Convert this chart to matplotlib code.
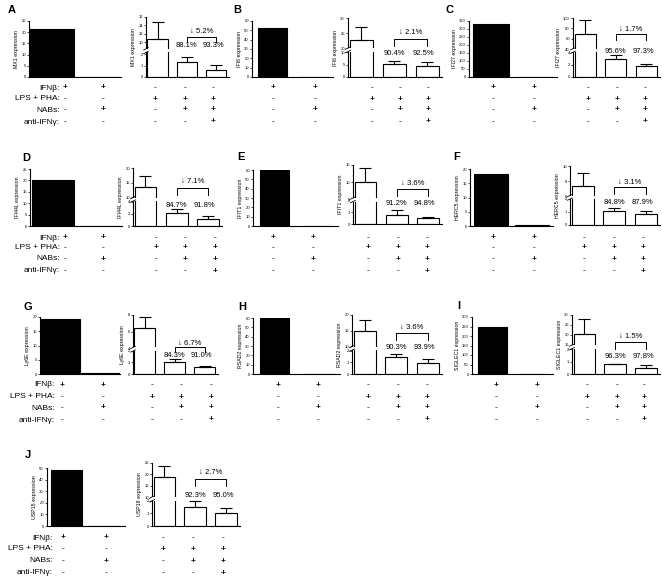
import matplotlib
matplotlib.use("Agg")
import matplotlib.pyplot as plt
import matplotlib.transforms as mtransforms
from matplotlib.patches import Rectangle
import numpy as np

plt.rcParams['font.family'] = ['Liberation Sans', 'DejaVu Sans']

# ---- data ----
letters = ["A", "B", "C", "D", "E", "F", "G", "H", "I", "J"]
genes = ["MX1", "IFI6", "IFI27", "IFI44L", "IFIT1", "HERC5", "Ly6E", "RSAD2", "SIGLEC1", "USP18"]

# left plots: IFNb alone / IFNb + NABs
ifnb_alone = [21.5, 52, 330, 20.3, 60, 18.4, 19.4, 60, 248, 48]
ifnb_nabs = [0.2, 0.3, 0.5, 0.2, 0.2, 0.3, 0.5, 0.2, 0.5, 0.4]
left_ymax = [25, 60, 350, 25, 60, 20, 20, 60, 300, 50]
left_step = [5, 10, 50, 5, 10, 5, 5, 10, 50, 10]

# right plots: LPS+PHA / +NABs / +NABs+anti-IFNg  (mean, upper SEM)
stim_mean = [
    [10.8, 1.31, 0.65],
    [22.8, 5.3, 4.3],
    [69.5, 2.9, 1.85],
    [13.7, 2.1, 1.17],
    [10.0, 0.8, 0.5],
    [7.4, 1.05, 0.83],
    [6.4, 1.0, 0.57],
    [14.9, 1.49, 0.97],
    [20.3, 0.81, 0.51],
    [18.8, 1.54, 1.0],
]
stim_err = [
    [3.9, 0.45, 0.39],
    [4.1, 1.3, 1.8],
    [27.5, 0.6, 0.25],
    [3.5, 0.7, 0.5],
    [4.0, 0.44, 0.1],
    [1.7, 0.2, 0.25],
    [1.3, 0.23, 0.09],
    [3.4, 0.22, 0.32],
    [7.7, 0.01, 0.22],
    [5.0, 0.46, 0.4],
]
pct_labels = [
    ["88.1%", "93.3%"], ["90.4%", "92.5%"], ["95.6%", "97.3%"],
    ["84.7%", "91.8%"], ["91.2%", "94.8%"], ["84.8%", "87.9%"],
    ["84.3%", "91.0%"], ["90.3%", "93.9%"], ["96.3%", "97.8%"],
    ["92.3%", "95.0%"],
]
delta_labels = ["5.2%", "2.1%", "1.7%", "7.1%", "3.6%", "3.1%", "6.7%", "3.6%", "1.5%", "2.7%"]

# broken y axis of the right plots
break_lo = [2.3, 11, 4.3, 4.4, 2.1, 2.07, 2.1, 2.2, 2.2, 2.15]
break_hi = [8, 19.5, 38.4, 9.4, 4.8, 5.9, 3.9, 9.4, 14, 9.3]
right_top = [16, 30, 100, 20, 15, 10, 8, 20, 30, 25]
lower_ticks = [[0, 1, 2], [0, 5, 10], [0, 2, 4], [0, 2, 4], [0, 1, 2],
               [0, 1, 2], [0, 1, 2], [0, 1, 2], [0, 1, 2], [0, 1, 2]]
upper_ticks = [[10, 12, 14, 16], [20, 25, 30], [40, 60, 80, 100], [10, 15, 20],
               [5, 10, 15], [6, 8, 10], [4, 6, 8], [10, 15, 20],
               [15, 20, 25, 30], [10, 15, 20, 25]]

row_names = ["IFN\u03b2:", "LPS + PHA:", "NABs:", "anti-IFN\u03b3:"]
signs = [
    ["+", "+", "-", "-", "-"],
    ["-", "-", "+", "+", "+"],
    ["-", "+", "-", "+", "+"],
    ["-", "-", "-", "-", "+"],
]

# ---- layout (pixels) ----
W, H = 662, 581
left_box = [(29, 21, 121, 77), (252, 21, 333, 77), (469, 21, 557, 77),
            (30, 169, 122, 226), (253, 170, 338, 226), (470, 169, 553, 226),
            (40, 317, 120, 374), (253, 318, 340, 374), (472, 317, 553, 374),
            (47, 468, 125, 526)]
right_box = [(146, 17, 229, 77), (348, 18, 442, 77), (573, 18, 660, 77),
             (133, 168, 222, 226), (353, 165, 442, 224), (570, 166, 660, 225),
             (133, 315, 218, 374), (352, 315, 442, 374), (572, 315, 660, 374),
             (152, 463, 240, 526)]
left_bar_w = [0.96, 0.72, 0.8, 0.92, 0.68, 0.82, 1.0, 0.67, 0.72, 0.77]
break_frac = [0.44, 0.46, 0.45, 0.46, 0.41, 0.47, 0.42, 0.435, 0.46, 0.43]
letter_pos = [(8, 10), (233, 10), (445, 10), (22, 158), (237, 157), (453, 157),
              (23, 307), (238, 307), (457, 306), (25, 455)]
# bracket top, bracket leg, arrow text, percentage text (axes fraction)
bracket_y = [(0.66, 0.59, 0.76, 0.52), (0.64, 0.53, 0.76, 0.39), (0.73, 0.63, 0.81, 0.43),
             (0.65, 0.54, 0.76, 0.35), (0.59, 0.47, 0.68, 0.34), (0.64, 0.52, 0.72, 0.38),
             (0.45, 0.38, 0.52, 0.32), (0.69, 0.58, 0.79, 0.45), (0.54, 0.42, 0.63, 0.30),
             (0.74, 0.63, 0.85, 0.49)]
sign_x = [(65, 103, 155, 185, 213), (273, 315, 372, 400, 428), (493, 534, 588, 617, 645),
          (65, 103, 156, 185, 215), (273, 313, 368, 398, 427), (493, 534, 584, 614, 643),
          (62, 103, 152, 181, 211), (278, 318, 368, 398, 427), (496, 537, 587, 617, 644),
          (63, 106, 163, 193, 223)]
table_rows_y = [[88, 99, 110, 122]] * 3 + [[238, 248, 259, 271]] * 3 + \
               [[385, 397, 408, 420]] * 3 + [[538, 549, 561, 573]]
row_label_x = {0: 60, 3: 60, 6: 55, 9: 53}


def px_axes(fig, box):
    x0, y0, x1, y1 = box
    return fig.add_axes([x0 / W, 1 - y1 / H, (x1 - x0) / W, (y1 - y0) / H])


def break_scale(lo, hi, top, frac, gap=0.002):
    def fwd(y):
        y = np.asarray(y, dtype=float)
        a = y / lo * frac
        b = frac + (y - lo) / (hi - lo) * gap
        c = frac + gap + (y - hi) / (top - hi) * (1 - frac - gap)
        return np.where(y <= lo, a, np.where(y < hi, b, c))

    def inv(t):
        t = np.asarray(t, dtype=float)
        a = t / frac * lo
        b = lo + (t - frac) / gap * (hi - lo)
        c = hi + (t - frac - gap) / (1 - frac - gap) * (top - hi)
        return np.where(t <= frac, a, np.where(t < frac + gap, b, c))
    return fwd, inv


def style(ax, label):
    for s in ['top', 'right']:
        ax.spines[s].set_visible(False)
    for s in ['left', 'bottom']:
        ax.spines[s].set_linewidth(0.8)
    ax.set_xticks([])
    ax.tick_params(axis='y', length=1.5, width=0.5, labelsize=3, pad=0.8)
    ax.set_ylabel(label, fontsize=3.8, labelpad=1.5)


fig = plt.figure(figsize=(W / 100, H / 100), dpi=100)

for i in range(10):
    gene = genes[i]

    # left plot: IFNb stimulation
    axl = px_axes(fig, left_box[i])
    axl.bar([0, 1], [ifnb_alone[i], ifnb_nabs[i]], width=left_bar_w[i],
            color=['black', 'white'], edgecolor='black', linewidth=0.8)
    axl.set_xlim(-0.5, 1.5)
    axl.set_ylim(0, left_ymax[i])
    axl.set_yticks(np.arange(0, left_ymax[i] + 1, left_step[i]))
    style(axl, f"{gene} expression")

    # right plot: LPS + PHA stimulation with broken axis
    axr = px_axes(fig, right_box[i])
    fwd, inv = break_scale(break_lo[i], break_hi[i], right_top[i], break_frac[i])
    axr.set_yscale('function', functions=(fwd, inv))
    axr.bar([0, 1, 2], stim_mean[i], width=0.7, color='white', edgecolor='black',
            linewidth=0.8, yerr=[[0, 0, 0], stim_err[i]],
            error_kw=dict(ecolor='black', elinewidth=0.8, capsize=4, capthick=0.8))
    axr.set_xlim(-0.4, 2.45)
    axr.set_ylim(0, right_top[i])
    ticks = lower_ticks[i] + upper_ticks[i]
    axr.set_yticks(ticks)
    axr.set_yticklabels([str(t) for t in ticks])
    axr.minorticks_off()
    style(axr, f"{gene} expression")

    # break marks
    f = break_frac[i]
    trans = mtransforms.blended_transform_factory(axr.transData, axr.transAxes)
    axr.add_patch(Rectangle((-0.47, f - 0.03), 0.86, 0.06, transform=trans,
                            facecolor='white', edgecolor='none', clip_on=False, zorder=5))
    for dy in (-0.03, 0.03):
        axr.plot([-0.48, -0.32], [f + dy - 0.02, f + dy + 0.02], transform=trans,
                 color='black', lw=0.6, clip_on=False, zorder=6)

    # bracket and percentages
    yt, yl, ytx, yp = bracket_y[i]
    axr.plot([1, 1, 2, 2], [yl, yt, yt, yl], transform=trans, color='black', lw=0.7,
             clip_on=False)
    axr.text(1.5, ytx, "\u2193 " + delta_labels[i], transform=trans, ha='center',
             va='center', fontsize=5.5)
    axr.text(1, yp, pct_labels[i][0], transform=trans, ha='center', va='center', fontsize=5.5)
    axr.text(1.9, yp, pct_labels[i][1], transform=trans, ha='center', va='center', fontsize=5.5)

    # panel letter
    lx, ly = letter_pos[i]
    fig.text(lx / W, 1 - ly / H, letters[i], fontsize=8, fontweight='bold',
             ha='left', va='center')

    # treatment table
    for r in range(4):
        yfig = 1 - table_rows_y[i][r] / H
        for c in range(5):
            fig.text(sign_x[i][c] / W, yfig, signs[r][c], ha='center', va='center',
                     fontsize=6, fontweight='bold' if signs[r][c] == '+' else 'normal')
        if i in row_label_x:
            fig.text(row_label_x[i] / W, yfig, row_names[r], ha='right', va='center',
                     fontsize=6)

fig.savefig("out.png", dpi=100)
plt.close(fig)
